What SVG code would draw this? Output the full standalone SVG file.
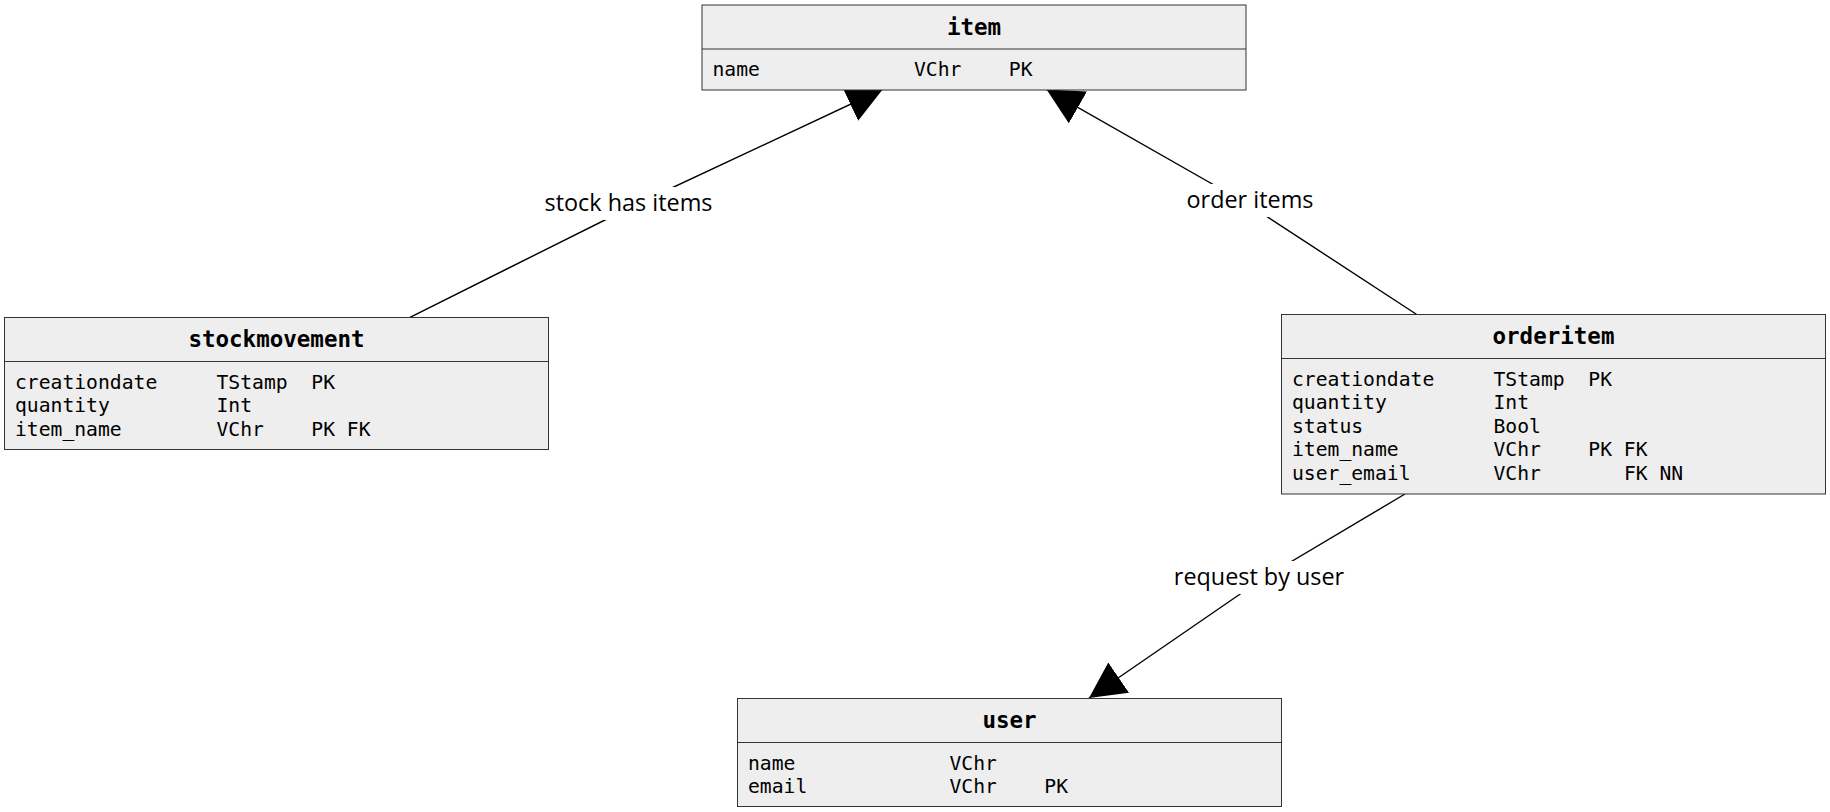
<svg xmlns="http://www.w3.org/2000/svg" width="1830" height="812" viewBox="0 0 1830 812">
<style>
.box{fill:#eeeeee;stroke:#333333;stroke-width:1}
.div{stroke:#333333;stroke-width:1}
.title{font-family:"DejaVu Sans Mono","Liberation Mono",monospace;font-weight:bold;font-size:22.5px;fill:#000;text-anchor:middle}
.row{font-family:"DejaVu Sans Mono","Liberation Mono",monospace;font-size:19.7px;fill:#000}
.edge{stroke:#000;stroke-width:1.4;fill:none;stroke-linejoin:round}
.lbl{font-family:"Open Sans","Noto Sans",sans-serif;font-size:23.4px;fill:#000;text-anchor:middle}
.lblbg{fill:#ffffff}
</style>
<defs>
<marker id="arrow" markerUnits="userSpaceOnUse" markerWidth="37" markerHeight="37" refX="36" refY="18.3" orient="auto" viewBox="0 0 37 37">
<path d="M0,0 L36,18.3 L0,36.6 Z" fill="#000"/>
</marker>
</defs>
<rect width="1830" height="812" fill="#ffffff"/>
<g id="connectors">
<g id="edge-stock-item">
<polyline class="edge" points="410,317.3 630,207.5 883,89" marker-end="url(#arrow)"/>
<rect class="lblbg" x="540" y="187" width="177" height="33"/>
<text class="lbl" x="628.5" y="211">stock has items</text>
</g>
<g id="edge-orderitem-item">
<polyline class="edge" points="1416.7,314.5 1250,205.5 1046.6,89.6" marker-end="url(#arrow)"/>
<rect class="lblbg" x="1182" y="184" width="135" height="33"/>
<text class="lbl" x="1250" y="208.3">order items</text>
</g>
<g id="edge-orderitem-user">
<polyline class="edge" points="1405,494 1262,579 1089,698" marker-end="url(#arrow)"/>
<rect class="lblbg" x="1169" y="561" width="180" height="33"/>
<text class="lbl" x="1259" y="584.5">request by user</text>
</g>
</g>
<g id="node-item">
<rect class="box" x="702" y="5" width="544" height="85"/>
<line class="div" x1="702" y1="49" x2="1246" y2="49"/>
<text class="title" x="974" y="34.5">item</text>
<text class="row" y="76"><tspan x="712.5">name</tspan><tspan x="914">VChr</tspan><tspan x="1008.8">PK</tspan></text>
</g>
<g id="node-stockmovement">
<rect class="box" x="4.5" y="317.5" width="544" height="132"/>
<line class="div" x1="4.5" y1="361.5" x2="548.5" y2="361.5"/>
<text class="title" x="276.5" y="347">stockmovement</text>
<text class="row" y="388.5"><tspan x="15">creationdate</tspan><tspan x="216.5">TStamp</tspan><tspan x="311.3">PK</tspan></text>
<text class="row" y="412.1"><tspan x="15">quantity</tspan><tspan x="216.5">Int</tspan></text>
<text class="row" y="435.7"><tspan x="15">item_name</tspan><tspan x="216.5">VChr</tspan><tspan x="311.3">PK FK</tspan></text>
</g>
<g id="node-orderitem">
<rect class="box" x="1281.5" y="314.5" width="544" height="179.5"/>
<line class="div" x1="1281.5" y1="358.5" x2="1825.5" y2="358.5"/>
<text class="title" x="1553.5" y="344">orderitem</text>
<text class="row" y="385.5"><tspan x="1292">creationdate</tspan><tspan x="1493.5">TStamp</tspan><tspan x="1588.3">PK</tspan></text>
<text class="row" y="409.1"><tspan x="1292">quantity</tspan><tspan x="1493.5">Int</tspan></text>
<text class="row" y="432.7"><tspan x="1292">status</tspan><tspan x="1493.5">Bool</tspan></text>
<text class="row" y="456.3"><tspan x="1292">item_name</tspan><tspan x="1493.5">VChr</tspan><tspan x="1588.3">PK FK</tspan></text>
<text class="row" y="479.9"><tspan x="1292">user_email</tspan><tspan x="1493.5">VChr</tspan><tspan x="1623.9">FK NN</tspan></text>
</g>
<g id="node-user">
<rect class="box" x="737.5" y="698.5" width="544" height="108"/>
<line class="div" x1="737.5" y1="742.5" x2="1281.5" y2="742.5"/>
<text class="title" x="1009.5" y="728">user</text>
<text class="row" y="769.5"><tspan x="748">name</tspan><tspan x="949.5">VChr</tspan></text>
<text class="row" y="793.1"><tspan x="748">email</tspan><tspan x="949.5">VChr</tspan><tspan x="1044.3">PK</tspan></text>
</g>
</svg>
